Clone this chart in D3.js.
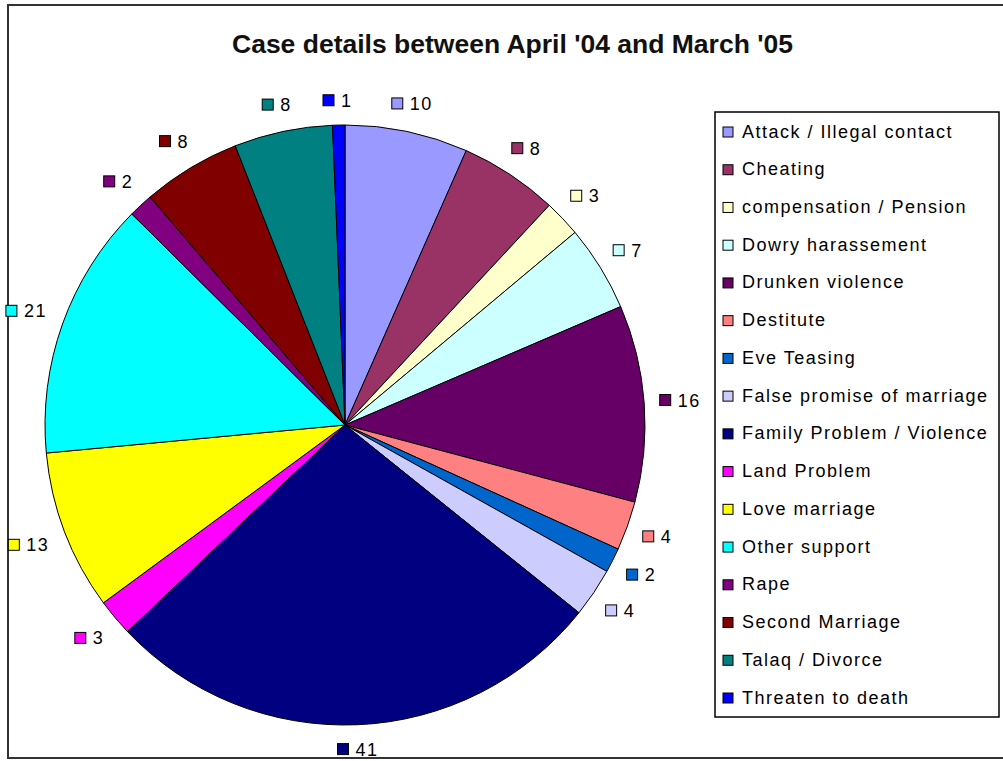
<!DOCTYPE html>
<html>
<head>
<meta charset="utf-8">
<script src="https://cdn.jsdelivr.net/npm/d3@7"></script>
<style>
  body { margin: 0; background: #fff; }
  svg { display: block; }
</style>
</head>
<body>
<div id="chart"></div>
<script>
// chart data
var categories = ["Attack / Illegal contact", "Cheating", "compensation / Pension", "Dowry harassement",
  "Drunken violence", "Destitute", "Eve Teasing", "False promise of marriage", "Family Problem / Violence",
  "Land Problem", "Love marriage", "Other support", "Rape", "Second Marriage", "Talaq / Divorce",
  "Threaten to death"];
var caseCounts = [10, 8, 3, 7, 16, 4, 2, 4, 41, 3, 13, 21, 2, 8, 8, 1];
var sliceColors = ["#9999FF", "#993366", "#FFFFCC", "#CCFFFF", "#660066", "#FF8080", "#0066CC", "#CCCCFF",
  "#000080", "#FF00FF", "#FFFF00", "#00FFFF", "#800080", "#800000", "#008080", "#0000FF"];
var chartTitle = "Case details between April '04 and March '05";

var svgWidth = 1003, svgHeight = 761;
var cx = 345, cy = 425, radius = 300;

var svg = d3.select("#chart").append("svg")
  .attr("width", svgWidth)
  .attr("height", svgHeight);

// chart area frame
svg.append("rect")
  .attr("x", 8).attr("y", 5)
  .attr("width", 1010).attr("height", 753)
  .attr("fill", "#fff")
  .attr("stroke", "#333").attr("stroke-width", 2);

svg.append("text")
  .attr("x", 232).attr("y", 53)
  .attr("textLength", 561)
  .attr("lengthAdjust", "spacingAndGlyphs")
  .attr("font-family", "'Liberation Sans', Arial, sans-serif")
  .attr("font-weight", "bold")
  .attr("font-size", "26px")
  .attr("fill", "#111")
  .text(chartTitle);

var data = categories.map(function(c, i) {
  return { name: c, value: caseCounts[i], color: sliceColors[i] };
});

var pie = d3.pie().sort(null).value(function(d) { return d.value; });
var arcs = pie(data);
var arc = d3.arc().innerRadius(0).outerRadius(radius);

var pieGroup = svg.append("g").attr("transform", `translate(${cx}, ${cy})`);

pieGroup.selectAll("path")
  .data(arcs)
  .enter()
  .append("path")
  .attr("d", arc)
  .attr("fill", function(d) { return d.data.color; })
  .attr("stroke", "#000")
  .attr("stroke-width", 1);

// data labels: swatch + value, placed just outside the pie
var labelFont = "'Liberation Sans', Arial, sans-serif";
var labels = pieGroup.selectAll("g.lbl")
  .data(arcs)
  .enter()
  .append("g")
  .attr("class", "lbl");

labels.each(function(d) {
  var g = d3.select(this);
  var txt = String(d.data.value);
  var w = 19 + txt.length * 11.5, h = 18;
  var a = (d.startAngle + d.endAngle) / 2;
  var s = Math.sin(a), c = Math.cos(a);
  var r = 315 + (w / 2) * Math.abs(s) + (h / 2) * Math.abs(c);
  var x = r * s - w / 2, y = -r * c;
  g.append("rect")
    .attr("x", x).attr("y", y - 6)
    .attr("width", 11).attr("height", 11)
    .attr("fill", d.data.color)
    .attr("stroke", "#000").attr("stroke-width", 1);
  g.append("text")
    .attr("x", x + 18).attr("y", y + 6)
    .attr("font-family", labelFont)
    .attr("font-size", "18px")
    .attr("letter-spacing", "1.5px")
    .attr("fill", "#000")
    .text(txt);
});

// legend
var legend = svg.append("g").attr("transform", "translate(715, 112)");
legend.append("rect")
  .attr("x", 0).attr("y", 0)
  .attr("width", 284).attr("height", 605)
  .attr("fill", "#fff")
  .attr("stroke", "#000").attr("stroke-width", 1.5);

var legendY = d3.scalePoint()
  .domain(categories)
  .range([20, 586]);

var items = legend.selectAll("g.item")
  .data(data)
  .enter()
  .append("g")
  .attr("class", "item")
  .attr("transform", function(d) { return `translate(0, ${legendY(d.name)})`; });

items.append("rect")
  .attr("x", 8).attr("y", -5)
  .attr("width", 10).attr("height", 10)
  .attr("fill", function(d) { return d.color; })
  .attr("stroke", "#000").attr("stroke-width", 1);

items.append("text")
  .attr("x", 27).attr("y", 5.5)
  .attr("font-family", labelFont)
  .attr("font-size", "18px")
  .attr("letter-spacing", "1.5px")
  .attr("fill", "#000")
  .text(function(d) { return d.name; });
</script>
</body>
</html>
